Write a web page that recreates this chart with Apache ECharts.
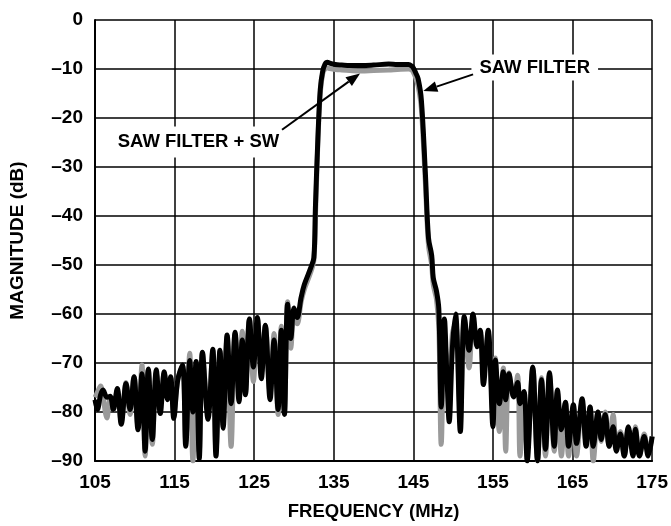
<!DOCTYPE html>
<html>
<head>
<meta charset="utf-8">
<script src="https://cdn.jsdelivr.net/npm/echarts@6/dist/echarts.min.js"></script>
<style>
html,body{margin:0;padding:0;background:#fff;}
#c{width:671px;height:526px;}
</style>
</head>
<body>
<div id="c"></div>
<script>
// Frequency (MHz) sample points
const freq = [
105.0,105.3,105.7,106.0,106.5,106.9,107.3,107.8,108.3,108.9,109.4,109.9,110.4,110.9,111.3,111.7,112.2,112.7,113.2,113.7,
114.1,114.5,114.9,115.4,116.0,116.4,116.9,117.3,117.7,118.1,118.5,119.2,119.8,120.2,120.7,121.1,121.6,122.1,122.6,123.1,
123.5,123.9,124.4,124.9,125.4,125.9,126.4,127.0,127.5,128.0,128.4,128.8,129.2,129.6,130.0,130.4,130.9,131.3,132.1,132.5,
132.7,133.0,133.3,133.6,133.9,134.2,134.5,135.2,136.0,137.0,138.5,140.0,141.9,143.0,144.4,144.8,145.0,145.3,145.6,146.0,
146.5,146.9,147.3,147.5,147.9,148.2,148.5,148.9,149.2,149.5,149.9,150.3,150.9,151.4,152.0,152.5,153.0,153.4,153.8,154.4,
155.0,155.3,155.8,156.3,156.6,157.0,157.6,158.1,158.4,158.9,159.3,160.0,160.6,161.1,161.6,162.1,162.7,163.1,163.6,164.1,
164.5,165.1,165.5,166.2,166.7,167.2,167.6,168.2,168.6,169.1,169.6,170.1,170.5,171.0,171.5,172.0,172.6,172.9,173.4,174.0,
174.5,175.0
];
// SAW FILTER (black) magnitude, dB
const sawFilter = [
-77.5,-79.5,-76.5,-75.5,-77,-76.8,-79.5,-75.2,-82.5,-74.2,-79.5,-72.8,-83.6,-72.2,-88,-71.2,-85.6,-71.4,-80.3,-71.8,
-77.5,-72.8,-81.3,-73.4,-70.4,-87,-69.5,-80,-69.7,-89.5,-67.8,-81.5,-67.2,-89,-67.4,-83.3,-64.3,-78.3,-63.7,-77.9,
-65.3,-76.5,-61,-70.8,-60.7,-73.2,-62.3,-77.5,-65.3,-79.5,-63.3,-80.5,-58,-65,-58.8,-60.7,-56.6,-54,-50.6,-48.5,
-37.8,-24.3,-14.2,-10.5,-9.0,-8.6,-8.8,-9.1,-9.2,-9.3,-9.3,-9.2,-9.0,-9.1,-9.1,-9.4,-9.8,-10.8,-12,-16.2,
-31,-44.5,-48,-52.6,-55.3,-59,-79,-61,-72,-82,-67,-60,-84,-60.5,-67.4,-60,-66.7,-63.3,-74.4,-63.3,
-83,-69.4,-78.3,-71.8,-77.5,-72.2,-76.9,-74,-78.3,-75.8,-90,-70.8,-90,-73.4,-87.6,-72,-87,-75.5,-83.6,-78,
-87,-78.5,-86.4,-77.3,-87,-79,-87,-80,-85.6,-80.5,-87,-83,-88,-84.5,-89,-83,-89,-83.5,-89,-85,
-89,-85
];
// SAW FILTER + SW (grey) magnitude, dB
const sawFilterSw = [
-77,-76,-74.7,-77,-81.2,-77,-79.5,-75.5,-82,-74,-80.5,-72.8,-83,-70.4,-89,-71.5,-86.6,-72,-78,-72,
-77,-73,-80.5,-73.5,-70.5,-86,-68,-90,-70,-88,-68,-80,-67.5,-88,-67.5,-82,-64.5,-87,-64,-76,
-63.5,-76,-61,-73.8,-61,-72,-62.5,-76,-64,-80.5,-62.5,-80,-57.5,-67,-60.5,-62,-57.5,-55,-51.5,-49,
-40,-25,-15,-11,-10,-9.8,-9.9,-10.1,-10.2,-10.3,-10.4,-10.3,-10.2,-10.1,-10.0,-10.2,-10.7,-11.8,-13.5,-18,
-33,-46,-50,-54,-57,-63,-86.6,-66,-70,-76,-64,-62,-80,-61,-71,-61,-65,-64,-72,-64,
-80,-69,-84,-71,-88,-72,-77,-72.5,-89,-76,-88,-71,-90,-73,-89,-72.5,-88,-76,-89,-78,
-89,-79,-89,-78,-86,-79,-90,-80,-86,-80,-87,-80.5,-86,-84,-89,-83.5,-88,-83,-89,-84.5,
-88,-85
];
const xTicks = [105,115,125,135,145,155,165,175];
const yTicks = [0,-10,-20,-30,-40,-50,-60,-70,-80,-90];

const FONT = '"Liberation Sans", Arial, Helvetica, sans-serif';
const chart = echarts.init(document.getElementById('c'), null, {renderer:'canvas'});
const pair = (ys) => freq.map((f,i)=>[f, ys[i]]);

chart.setOption({
  animation:false,
  backgroundColor:'#fff',
  grid:{left:95, right:17, top:20, bottom:61, containLabel:false},
  xAxis:{
    type:'value', min:105, max:175, interval:10,
    name:'FREQUENCY (MHz)', nameLocation:'middle', nameGap:41,
    nameTextStyle:{fontFamily:FONT, fontWeight:'bold', fontSize:18.5, color:'#000'},
    axisLine:{show:true, onZero:false, lineStyle:{color:'#000', width:2}},
    axisTick:{show:false},
    axisLabel:{fontFamily:FONT, fontWeight:'bold', fontSize:19, color:'#000', margin:12,
      formatter:(v)=> xTicks.includes(v) ? String(v) : ''},
    splitLine:{show:true, lineStyle:{color:'#000', width:1.5}}
  },
  yAxis:{
    type:'value', min:-90, max:0, interval:10,
    name:'MAGNITUDE (dB)', nameLocation:'middle', nameGap:68, nameRotate:90,
    nameTextStyle:{fontFamily:FONT, fontWeight:'bold', fontSize:19, color:'#000'},
    axisLine:{show:true, onZero:false, lineStyle:{color:'#000', width:2}},
    axisTick:{show:false},
    axisLabel:{fontFamily:FONT, fontWeight:'bold', fontSize:19, color:'#000', margin:12,
      formatter:(v)=> yTicks.includes(v) ? String(v).replace('-', '\u2013') : ''},
    splitLine:{show:true, lineStyle:{color:'#000', width:1.5}}
  },
  series:[
    {name:'SAW FILTER + SW', type:'line', data:pair(sawFilterSw), showSymbol:false, smooth:0.35,
     lineStyle:{color:'#9a9a9a', width:5}, z:2},
    {name:'SAW FILTER', type:'line', data:pair(sawFilter), showSymbol:false, smooth:0.35,
     lineStyle:{color:'#000', width:5}, z:3}
  ]
});

// Annotations, anchored in data coordinates
const notes = [
  {text:'SAW FILTER + SW', at:[118.0,-24.9], from:[128.5,-22.4], tip:[138.3,-10.9], pad:[7,3,5,3]},
  {text:'SAW FILTER', at:[160.25,-9.7], from:[152.5,-11.1], tip:[146.25,-14.5], pad:[4,8,3,8]}
];
const g = [];
notes.forEach(n=>{
  const c = chart.convertToPixel({gridIndex:0}, n.at);
  const a = chart.convertToPixel({gridIndex:0}, n.from);
  const b = chart.convertToPixel({gridIndex:0}, n.tip);
  g.push({type:'text', z:10, x:c[0], y:c[1], style:{text:n.text, fontFamily:FONT, fontWeight:'bold', fontSize:18.5,
    fill:'#000', align:'center', verticalAlign:'middle', backgroundColor:'#fff', padding:n.pad}});
  const ang = Math.atan2(b[1]-a[1], b[0]-a[0]);
  const L = 14, W = 5.5;
  const bx = b[0]-L*Math.cos(ang), by = b[1]-L*Math.sin(ang);
  g.push({type:'line', z:11, shape:{x1:a[0], y1:a[1], x2:bx, y2:by}, style:{stroke:'#000', lineWidth:2}});
  g.push({type:'polygon', z:11, shape:{points:[[b[0],b[1]],[bx+W*Math.sin(ang), by-W*Math.cos(ang)],[bx-W*Math.sin(ang), by+W*Math.cos(ang)]]},
    style:{fill:'#000'}});
});
chart.setOption({graphic:g});
</script>
</body>
</html>
